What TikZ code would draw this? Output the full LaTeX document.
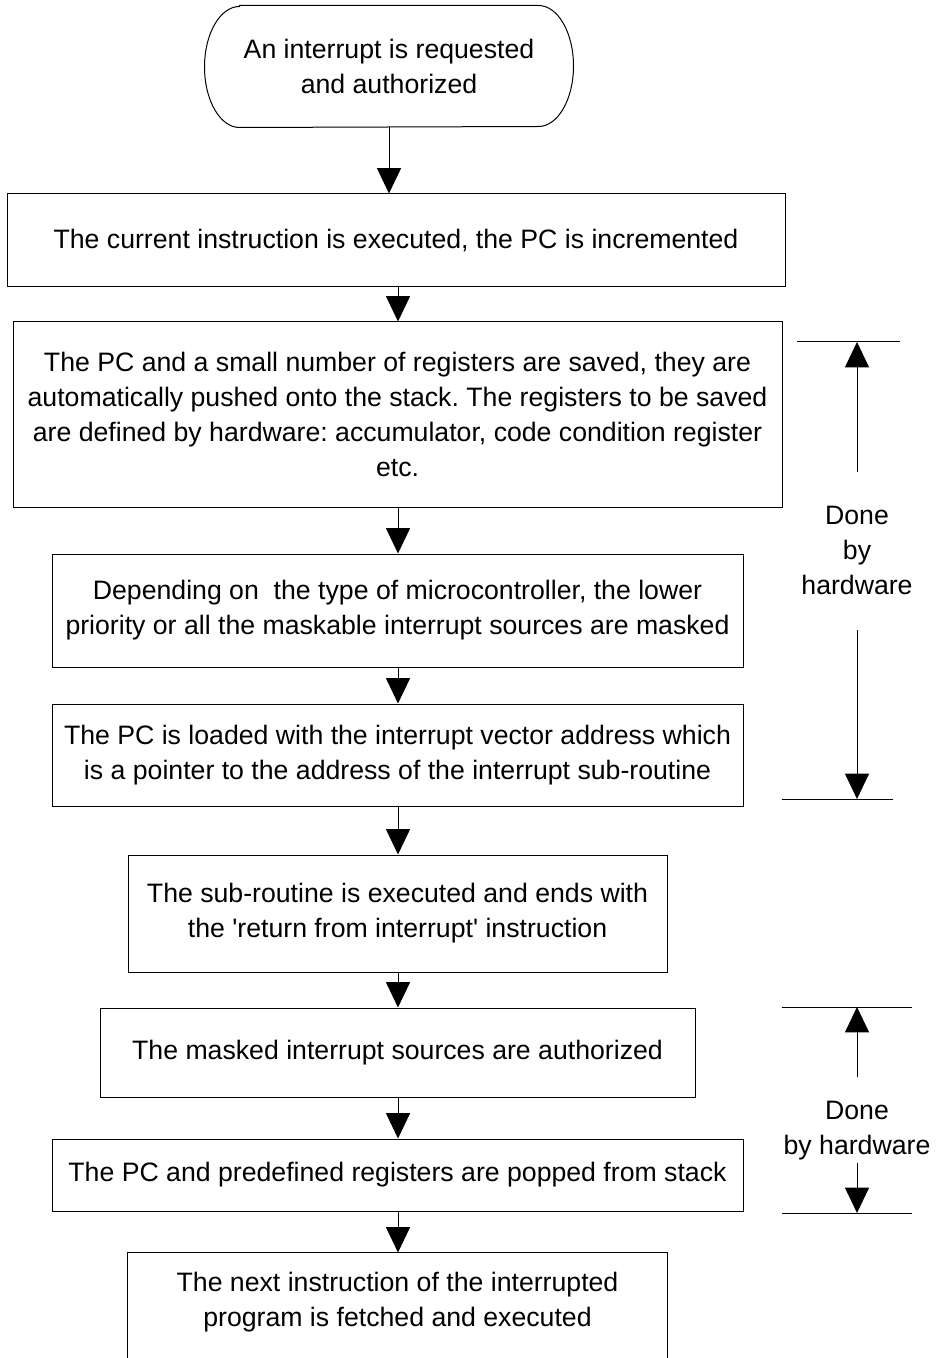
\documentclass[tikz,border=0pt]{standalone}
\usepackage{fontspec}
\setmainfont{Liberation Sans}
\usetikzlibrary{arrows.meta}
\frenchspacing

\begin{document}
\begin{tikzpicture}[x=0.75pt,y=-0.75pt,
  every node/.style={font=\fontsize{20}{26.25}\selectfont, align=center},
  stepbox/.style 2 args={draw, rectangle, line width=0.75pt, inner sep=0pt,
    minimum width=#1*0.75pt, minimum height=#2*0.75pt},
  arr/.style={-{Triangle[width=18pt,length=19pt]}, line width=0.75pt},
  rule/.style={line width=0.75pt}]

\clip (0,0) rectangle (940,1358);

% vertical axis of the flow
\coordinate (spine) at (398,0);

% start terminal: straight top and bottom, elliptic ends
\node[stepbox={368}{121}, draw=none] (start) at (389,66.5)
  {An interrupt is requested\\and authorized};
\draw[rule] ([xshift=26.25pt]start.north west) -- ([xshift=-26.25pt]start.north east)
  arc[start angle=90, end angle=-90, x radius=26.25pt, y radius=45.375pt]
  -- ([xshift=26.25pt]start.south west)
  arc[start angle=270, end angle=90, x radius=26.25pt, y radius=45.375pt]
  -- cycle;

% process steps
\node[stepbox={778}{93}] (b1) at (396,240.5)
  {The current instruction is executed, the PC is incremented};
\node[stepbox={769}{185}] (b2) at (397.5,414.5)
  {The PC and a small number of registers are saved, they are\\
   automatically pushed onto the stack. The registers to be saved\\
   are defined by hardware: accumulator, code condition register\\
   etc.};
\node[stepbox={691}{113}] (b3) at (397.5,610.5)
  {Depending on\ \ the type of microcontroller, the lower\\
   priority or all the maskable interrupt sources are masked};
\node[stepbox={691}{102}] (b4) at (397.5,755)
  {The PC is loaded with the interrupt vector address which\\
   is a pointer to the address of the interrupt sub-routine};
\node[stepbox={539}{117}] (b5) at (397.5,913.5)
  {The sub-routine is executed and ends with\\
   the \textquotesingle return from interrupt\textquotesingle{} instruction};
\node[stepbox={595}{89}] (b6) at (397.5,1052.5)
  {The masked interrupt sources are authorized};
\node[stepbox={691}{72}] (b7) at (397.5,1175)
  {The PC and predefined registers are popped from stack};
\node[stepbox={539}{99}, draw=none] (b8) at (397.5,1302.5)
  {The next instruction of the interrupted\\
   program is fetched and executed};
% last box runs past the lower edge
\draw[rule] ([yshift=-20pt]b8.south west) -- (b8.north west)
  -- (b8.north east) -- ([yshift=-20pt]b8.south east);

% flow connectors
\draw[arr] (start.south) -- (start.south |- b1.north);
\draw[arr] (b1.south -| spine) -- (b2.north -| spine);
\draw[arr] (b2.south -| spine) -- (b3.north -| spine);
\draw[arr] (b3.south -| spine) -- (b4.north -| spine);
\draw[arr] (b4.south -| spine) -- (b5.north -| spine);
\draw[arr] (b5.south -| spine) -- (b6.north -| spine);
\draw[arr] (b6.south -| spine) -- (b7.north -| spine);
\draw[arr] (b7.south -| spine) -- (b8.north -| spine);

% hardware span 1
\coordinate (h1tl) at (797,342);  \coordinate (h1tr) at (900,342);
\coordinate (h1bl) at (782,799);  \coordinate (h1br) at (893,799);
\coordinate (h1t) at (857,342);   \coordinate (h1b) at (857,799);
\coordinate (h1u) at (857,472);   \coordinate (h1d) at (857,630);
\draw[rule] (h1tl) -- (h1tr);
\draw[rule] (h1bl) -- (h1br);
\node (hw1) at (857,550) {Done\\by\\hardware};
\draw[arr] (h1u) -- (h1t);
\draw[arr] (h1d) -- (h1b);

% hardware span 2
\coordinate (h2tl) at (782,1007); \coordinate (h2tr) at (912,1007);
\coordinate (h2bl) at (782,1213); \coordinate (h2br) at (912,1213);
\coordinate (h2t) at (857,1007);  \coordinate (h2b) at (857,1213);
\coordinate (h2u) at (857,1077);  \coordinate (h2d) at (857,1163);
\draw[rule] (h2tl) -- (h2tr);
\draw[rule] (h2bl) -- (h2br);
\node (hw2) at (857,1130.5) {Done\\by hardware};
\draw[arr] (h2u) -- (h2t);
\draw[arr] (h2d) -- (h2b);

\end{tikzpicture}
\end{document}
